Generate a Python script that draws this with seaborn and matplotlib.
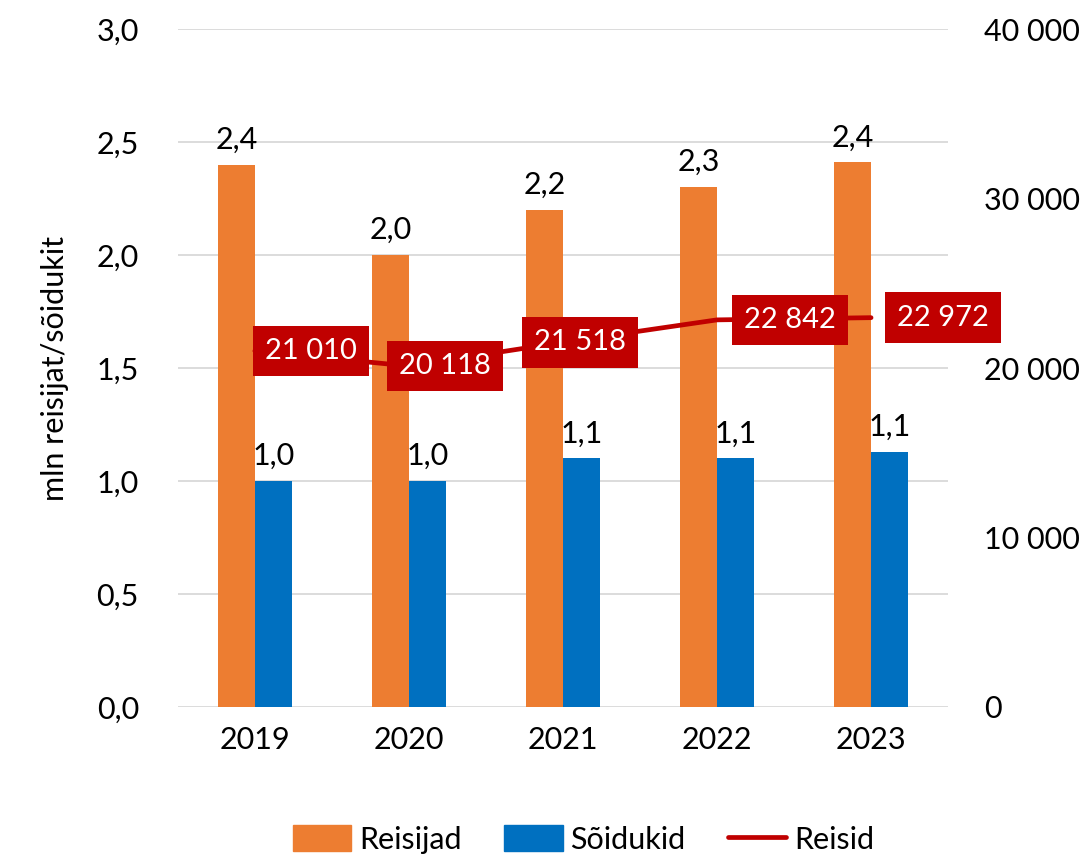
import matplotlib
matplotlib.use("Agg")
import matplotlib.pyplot as plt
from matplotlib.patches import Patch
from matplotlib.lines import Line2D
import seaborn as sns
import pandas as pd

years = ["2019", "2020", "2021", "2022", "2023"]
reisijad = [2.4, 2.0, 2.2, 2.3, 2.41]
soidukid = [1.0, 1.0, 1.1, 1.1, 1.13]
reisid = [21010, 20118, 21518, 22842, 22972]

orange = "#ED7D31"
blue = "#0070C0"
red = "#C00000"

sns.set_theme(style="white")
plt.rcParams["font.family"] = ["Lato", "DejaVu Sans"]
plt.rcParams["text.color"] = "black"

df = pd.DataFrame({
    "year": years * 2,
    "value": reisijad + soidukid,
    "series": ["Reisijad"] * 5 + ["Sõidukid"] * 5,
})

fig = plt.figure(figsize=(10.91, 8.68), dpi=100)
ax = fig.add_axes([0.163, 0.1855, 0.706, 0.781])

sns.barplot(data=df, x="year", y="value", hue="series",
            palette=[orange, blue], width=0.48, gap=0, saturation=1,
            linewidth=0, ax=ax, legend=False)
ax.set_xlim(-0.5, 4.5)
ax.set_ylim(0, 3.0)
ax.set_yticks([0, 0.5, 1.0, 1.5, 2.0, 2.5, 3.0])
ax.set_yticklabels([f"{v:.1f}".replace(".", ",") for v in ax.get_yticks()])
ax.yaxis.grid(True, color="#D9D9D9", linewidth=1.3)
ax.set_axisbelow(True)
for s in ax.spines.values():
    s.set_visible(False)
ax.tick_params(axis="both", length=0, labelsize=22, colors="black")
ax.tick_params(axis="y", pad=28)
ax.tick_params(axis="x", pad=14)
ax.set_xlabel("")
ax.set_ylabel("mln reisijat/sõidukit", fontsize=22, labelpad=20, color="black")

for cont, vals in zip(ax.containers, [reisijad, soidukid]):
    ax.bar_label(cont, labels=[f"{v:.1f}".replace(".", ",") for v in vals],
                 fontsize=22, padding=8, color="black")

ax2 = ax.twinx()
sns.lineplot(x=list(range(len(years))), y=reisid, ax=ax2, color=red,
             linewidth=3.4, solid_capstyle="round")
ax2.set_ylim(0, 40000)
ax2.set_yticks([0, 10000, 20000, 30000, 40000])
ax2.set_yticklabels([f"{int(v):,}".replace(",", " ") for v in ax2.get_yticks()])
ax2.tick_params(axis="y", length=0, labelsize=22, pad=26, colors="black")
for s in ax2.spines.values():
    s.set_visible(False)
ax2.grid(False)

offsets = [56, 36, 17, 73, 72]
for i, (v, off) in enumerate(zip(reisid, offsets)):
    ax2.annotate(f"{v:,}".replace(",", " "), (i, v), xytext=(off * 0.72, 0),
                 textcoords="offset points", ha="center", va="center",
                 fontsize=21, color="white",
                 bbox=dict(boxstyle="square,pad=0.42", fc=red, ec="none"))

handles = [Patch(color=orange, label="Reisijad"),
           Patch(color=blue, label="Sõidukid"),
           Line2D([0], [0], color=red, lw=3.4, label="Reisid")]
fig.legend(handles=handles, loc="lower center", ncol=3, frameon=False,
           fontsize=22, bbox_to_anchor=(0.535, -0.015), handlelength=1.9,
           handleheight=0.9, handletextpad=0.25, columnspacing=1.4)

fig.savefig("out.png", dpi=100)
